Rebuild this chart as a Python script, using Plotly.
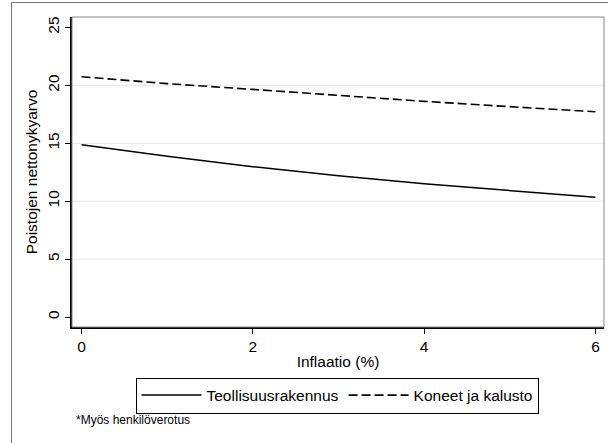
import plotly.graph_objects as go

inflation = [0, 1, 2, 3, 4, 5, 6]
teollisuus = [14.88, 13.88, 12.98, 12.2, 11.5, 10.9, 10.34]
koneet = [20.74, 20.15, 19.65, 19.12, 18.62, 18.16, 17.72]
y_ticks = [0, 5, 10, 15, 20, 25]
x_ticks = [0, 2, 4, 6]
grid_vals = [5, 10, 15, 20]

W, H = 608, 443
L, R, T, B = 72, 4, 17, 116
pw, ph = W - L - R, H - T - B

def px_x(p):
    return (p - L) / pw

def px_y(p):
    return (H - B - p) / ph

FONT = "Liberation Sans, Arial, sans-serif"
FS = 15.5

fig = go.Figure()
fig.add_trace(go.Scatter(x=inflation, y=teollisuus, mode="lines", name="Teollisuusrakennus",
                         line=dict(color="black", width=1.5)))
fig.add_trace(go.Scatter(x=inflation, y=koneet, mode="lines", name="Koneet ja kalusto",
                         line=dict(color="black", width=1.6, dash="9px,4px")))

shapes = []
for g in grid_vals:
    shapes.append(dict(type="line", xref="paper", yref="y", x0=0, x1=1, y0=g, y1=g,
                       line=dict(color="#e6e6e6", width=1), layer="below"))
# plot region frame (top/right gray)
shapes.append(dict(type="rect", xref="paper", yref="paper", x0=0, x1=1, y0=0, y1=1,
                   line=dict(color="#888888", width=1)))
# outer graph frame
shapes.append(dict(type="rect", xref="paper", yref="paper", x0=px_x(11.5), x1=px_x(620),
                   y0=px_y(460), y1=px_y(2.5), line=dict(color="#777777", width=1)))

fig.update_layout(
    width=W, height=H,
    margin=dict(l=L, r=R, t=T, b=B),
    paper_bgcolor="white", plot_bgcolor="white",
    font=dict(family=FONT, size=FS, color="black"),
    shapes=shapes,
    showlegend=True,
    legend=dict(orientation="h", x=px_x(337), xanchor="center", y=px_y(377.5), yanchor="top",
                bordercolor="black", borderwidth=1, bgcolor="white",
                font=dict(size=FS, family=FONT), itemwidth=60),
    annotations=[dict(text="*Myös henkilöverotus", xref="paper", yref="paper",
                      x=px_x(74), y=px_y(420), xanchor="left", yanchor="middle",
                      showarrow=False, font=dict(size=12, family=FONT))],
)
fig.update_xaxes(range=[-0.112, 6.10], tickvals=x_ticks, ticks="outside", ticklen=5,
                 tickcolor="black", showline=True, linecolor="black", linewidth=1.5,
                 showgrid=False, zeroline=False, tickfont=dict(size=FS),
                 title=dict(text="Inflaatio (%)", font=dict(size=FS), standoff=2))
fig.update_yaxes(range=[-0.86, 25.9], tickvals=y_ticks, ticks="outside", ticklen=5,
                 tickcolor="black", showline=True, linecolor="black", linewidth=1.5,
                 showgrid=False, zeroline=False, tickangle=-90, tickfont=dict(size=FS),
                 title=dict(text="Poistojen nettonykyarvo", font=dict(size=FS), standoff=4))

fig.write_html("out.html")
